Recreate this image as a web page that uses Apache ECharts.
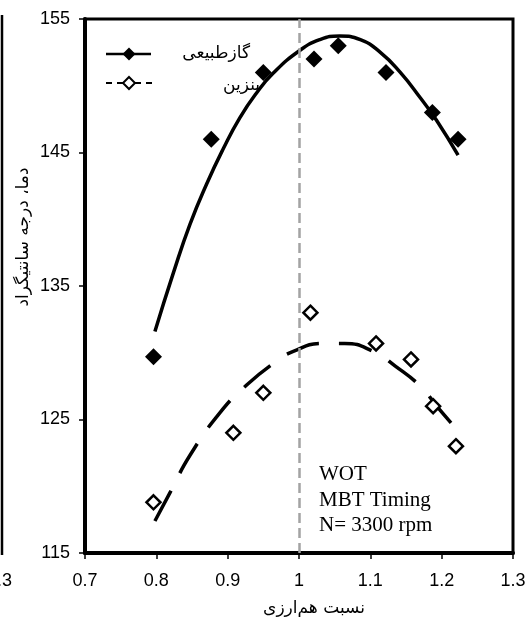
<!DOCTYPE html>
<html lang="fa">
<head>
    <meta charset="UTF-8">
    <title>دما - نسبت هم‌ارزی</title>
    <style>
        html, body { margin: 0; padding: 0; background: #fff; }
        #chart { width: 529px; height: 621px; }
    </style>
    <script src="https://cdn.jsdelivr.net/npm/echarts@6/dist/echarts.min.js"></script>
</head>
<body>
<div id="chart"></div>
<script>
// measured points - natural gas (filled diamonds)
var gasX = [0.796, 0.877, 0.95, 1.021, 1.055, 1.122, 1.187, 1.223];
var gasY = [129.7, 146, 151, 152, 153, 151, 148, 146];
// measured points - gasoline (open diamonds)
var petrolX = [0.796, 0.908, 0.95, 1.016, 1.108, 1.157, 1.188, 1.22];
var petrolY = [118.8, 124, 127, 133, 130.7, 129.5, 126, 123];

// trend curves
var gasFitX = [0.798, 0.824, 0.847, 0.871, 0.894, 0.917, 0.941, 0.964, 1.0, 1.029, 1.057, 1.086, 1.114, 1.142, 1.17, 1.193, 1.223];
var gasFitY = [131.6, 136.0, 139.6, 142.7, 145.3, 147.6, 149.5, 150.95, 152.6, 153.45, 153.73, 153.45, 152.5, 151.0, 149.1, 147.4, 144.8];
var petrolFitX = [0.798, 0.819, 0.847, 0.889, 0.927, 0.964, 0.992, 1.034, 1.064, 1.104, 1.135, 1.172, 1.193, 1.219];
var petrolFitY = [117.4, 119.5, 122.3, 125.5, 127.6, 129.2, 130.1, 130.7, 130.7, 130.1, 129.0, 127.4, 126.0, 124.4];

var xTicks = [0.7, 0.8, 0.9, 1, 1.1, 1.2, 1.3];
var yTicks = [115, 125, 135, 145, 155];

var seriesNames = ['گازطبیعی', 'بنزین'];
var noteLines = ['WOT', 'MBT Timing', 'N= 3300 rpm'];

function zip(xs, ys) {
    return xs.map(function (x, i) { return [x, ys[i]]; });
}

var chart = echarts.init(document.getElementById('chart'));
var faFont = 'DejaVu Sans';

function seg(x1, x2, y, w) {
    return { type: 'line', shape: { x1: x1, y1: y, x2: x2, y2: y }, style: { stroke: '#000', lineWidth: w }, z: 10 };
}

var option = {
    animation: false,
    backgroundColor: '#fff',
    grid: {
        left: 85, right: 16, top: 19, bottom: 68,
        show: true, borderColor: '#000', borderWidth: 3
    },
    xAxis: {
        type: 'value', min: 0.7, max: 1.3,
        axisLine: { lineStyle: { color: '#000', width: 4 } },
        axisTick: { customValues: xTicks, length: 6, lineStyle: { color: '#000', width: 1.5 } },
        axisLabel: { customValues: xTicks, margin: 19, color: '#000', fontSize: 18, fontFamily: 'Liberation Sans' },
        splitLine: { show: false }
    },
    yAxis: {
        type: 'value', min: 115, max: 155,
        axisLine: { show: true, lineStyle: { color: '#000', width: 4 } },
        axisTick: { show: true, customValues: yTicks, length: 6, lineStyle: { color: '#000', width: 1.5 } },
        axisLabel: { customValues: yTicks, margin: 15, color: '#000', fontSize: 18, fontFamily: 'Liberation Sans' },
        splitLine: { show: false }
    },
    series: [
        {
            name: 'fit-gas', type: 'line', smooth: 0.5, symbol: 'none',
            data: zip(gasFitX, gasFitY),
            lineStyle: { color: '#000', width: 3.5 },
            markLine: {
                silent: true, symbol: 'none', label: { show: false },
                lineStyle: { color: '#a3a3a3', width: 2.5, type: [10, 5] },
                data: [{ xAxis: 1 }]
            },
            z: 2
        },
        {
            name: 'fit-petrol', type: 'line', smooth: 0.5, symbol: 'none',
            data: zip(petrolFitX, petrolFitY),
            lineStyle: { color: '#000', width: 3.5, type: [34, 20] },
            z: 2
        },
        {
            name: seriesNames[0], type: 'scatter', symbol: 'diamond', symbolSize: 17,
            data: zip(gasX, gasY),
            itemStyle: { color: '#000', opacity: 1 },
            z: 3
        },
        {
            name: seriesNames[1], type: 'scatter', symbol: 'diamond', symbolSize: 14,
            data: zip(petrolX, petrolY),
            itemStyle: { color: '#fff', borderColor: '#000', borderWidth: 2.5, opacity: 1 },
            z: 3
        }
    ],
    graphic: [
        // legend
        seg(106, 151, 54, 2.5),
        { type: 'polygon', shape: { points: [[129, 47.5], [135.5, 54], [129, 60.5], [122.5, 54]] }, style: { fill: '#000' }, z: 11 },
        { type: 'text', x: 250, y: 54, style: { text: seriesNames[0], align: 'right', verticalAlign: 'middle', font: '17px "' + faFont + '"', fill: '#000' }, z: 10 },
        seg(106, 112, 83, 2), seg(117, 123, 83, 2), seg(135, 141, 83, 2), seg(146, 152, 83, 2),
        { type: 'polygon', shape: { points: [[129, 77], [135, 83], [129, 89], [123, 83]] }, style: { fill: '#fff', stroke: '#000', lineWidth: 2 }, z: 11 },
        { type: 'text', x: 260, y: 86, style: { text: seriesNames[1], align: 'right', verticalAlign: 'middle', font: '17px "' + faFont + '"', fill: '#000' }, z: 10 },
        // conditions note
        { type: 'text', x: 319, y: 474, style: { text: noteLines[0], verticalAlign: 'middle', font: '21px "Liberation Serif"', fill: '#000' } },
        { type: 'text', x: 319, y: 500, style: { text: noteLines[1], verticalAlign: 'middle', font: '21px "Liberation Serif"', fill: '#000' } },
        { type: 'text', x: 319, y: 525, style: { text: noteLines[2], verticalAlign: 'middle', font: '21px "Liberation Serif"', fill: '#000' } },
        // axis titles
        { type: 'text', x: 314, y: 609, style: { text: 'نسبت هم‌ارزی', align: 'center', verticalAlign: 'middle', font: '17px "' + faFont + '"', fill: '#000' } },
        { type: 'text', x: 24, y: 237, rotation: Math.PI / 2, style: { text: 'دما، درجه سانتیگراد', align: 'center', verticalAlign: 'middle', font: '17px "' + faFont + '"', fill: '#000' } },
        // edge of the neighbouring panel
        { type: 'line', shape: { x1: 2, y1: 15, x2: 2, y2: 555 }, style: { stroke: '#000', lineWidth: 2.5 } },
        { type: 'text', x: 12, y: 581, style: { text: '1.3', align: 'right', verticalAlign: 'middle', font: '18px "Liberation Sans"', fill: '#000' } }
    ]
};
chart.setOption(option);
</script>
</body>
</html>
